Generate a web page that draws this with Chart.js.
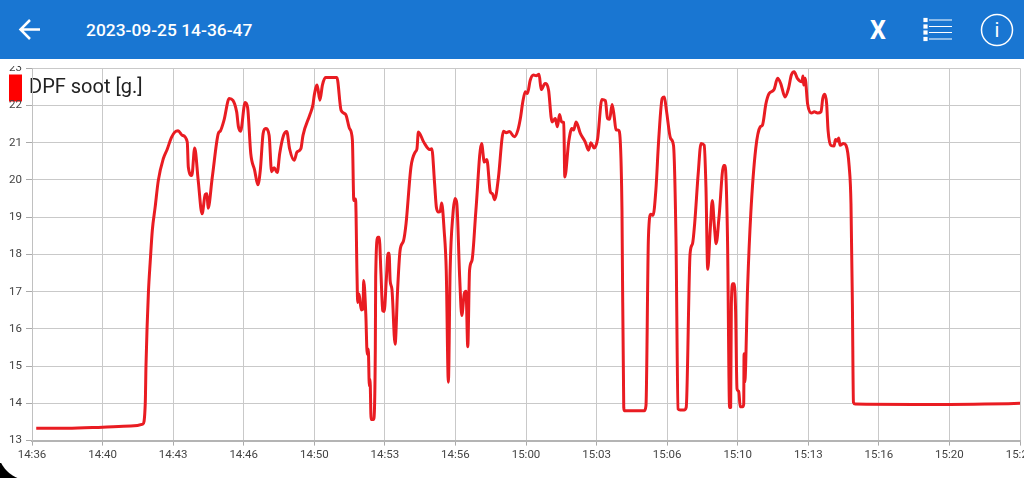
<!DOCTYPE html>
<html>
<head>
<meta charset="utf-8">
<title>DPF soot</title>
<script src="https://cdn.jsdelivr.net/npm/chart.js@4"></script>
<style>
    html, body { margin: 0; padding: 0; background: #fff; overflow: hidden; }
    #page { position: relative; width: 1024px; height: 478px; overflow: hidden; }
    #header { position: absolute; left: 0; top: 0; width: 1024px; height: 59px; background: #1976d2; }
    #title { position: absolute; left: 86px; top: 19px; color: #fff; font: 500 17.400px/22px Roboto, sans-serif; white-space: nowrap; }
    #x-btn { position: absolute; left: 870px; top: 16px; color: #fff; font: 700 25px/30px Roboto, sans-serif; }
    #info-i { position: absolute; left: 981px; top: 15px; width: 32px; text-align: center; color: #fff; font: 400 20px/30px Roboto, sans-serif; }
    svg { position: absolute; left: 0; top: 0; }
    #chart-box { position: absolute; left: 0; top: 66px; width: 1024px; height: 412px; }
    #soot-chart { display: block; }
    #corner { position: absolute; left: 0; top: 463px; width: 20px; height: 15px;
        background: radial-gradient(circle 33px at 30px -15px, rgba(0,0,0,0) 32px, #000 33px); }
</style>
</head>
<body>
<div id="page">
    <div id="header">
        <svg width="1024" height="59" fill="none" stroke="#fff" stroke-width="2.5">
            <path d="M21 29.5H40M30 20l-9.500 9.500 9.500 9.500"/>
            <g stroke-width="1.200">
                <path d="M929 20h23M929 26.500h23M929 32.500h23M929 39h23"/>
                <rect x="924" y="18.500" width="3" height="3" fill="#fff"/>
                <rect x="924" y="25" width="3" height="3" fill="#fff"/>
                <rect x="924" y="31" width="3" height="3" fill="#fff"/>
                <rect x="924" y="37.500" width="3" height="3" fill="#fff"/>
            </g>
            <circle cx="997" cy="30" r="15.500" stroke-width="1.500"/>
        </svg>
        <div id="title">2023-09-25 14-36-47</div>
        <div id="x-btn">X</div>
        <div id="info-i">i</div>
    </div>
    <div id="chart-box"><canvas id="soot-chart" width="1024" height="412"></canvas></div>
    <div id="corner"></div>
</div>

<script>
// Values. Time is seconds since the first tick (14:36:47)
const tickLabels = ["14:36", "14:40", "14:43", "14:46", "14:50", "14:53", "14:56", "15:00",
    "15:03", "15:06", "15:10", "15:13", "15:16", "15:20", "15:23"];

const elapsedSeconds = [
    12, 100, 200, 280, 314, 321, 323, 326, 330, 335, 341, 349, 358, 372, 383, 395, 405, 414, 426, 440,
    443, 453, 461, 471, 482, 491, 496, 499, 511, 528, 534, 544, 559, 580, 585, 591, 604, 611, 620, 631,
    640, 647, 655, 662, 672, 679, 686, 695, 702, 713, 722, 730, 743, 751, 762, 768, 787, 796, 800, 808,
    816, 823, 832, 848, 864, 876, 889, 900, 908, 912, 917, 921, 923, 927, 933, 938, 940, 946, 950, 953,
    956, 958, 961, 968, 973, 974, 980, 984, 989, 994, 998, 1004, 1009, 1012, 1015, 1020, 1029, 1036, 1043, 1053,
    1060, 1074, 1086, 1091, 1095, 1110, 1127, 1133, 1141, 1146, 1152, 1157, 1161, 1168, 1174, 1180, 1185, 1193, 1199, 1204,
    1212, 1218, 1225, 1230, 1235, 1240, 1247, 1258, 1274, 1282, 1289, 1299, 1305, 1311, 1322, 1332, 1336, 1344, 1353, 1367,
    1377, 1384, 1391, 1398, 1404, 1412, 1421, 1429, 1437, 1443, 1454, 1464, 1471, 1474, 1483, 1489, 1495, 1501, 1507, 1510,
    1521, 1530, 1535, 1542, 1554, 1568, 1577, 1584, 1593, 1603, 1615, 1625, 1631, 1637, 1644, 1650, 1655, 1662, 1667, 1672,
    1677, 1679, 1735, 1740, 1747, 1754, 1760, 1768, 1776, 1786, 1792, 1798, 1810, 1818, 1825, 1831, 1837, 1848, 1854, 1865,
    1872, 1878, 1888, 1896, 1905, 1910, 1915, 1922, 1928, 1934, 1939, 1947, 1960, 1964, 1971, 1977, 1980, 1982, 1986, 1990,
    1994, 1998, 2003, 2007, 2014, 2017, 2018, 2020, 2028, 2037, 2051, 2064, 2070, 2080, 2089, 2103, 2113, 2122, 2134, 2144,
    2152, 2160, 2169, 2182, 2185, 2187, 2191, 2198, 2209, 2217, 2226, 2236, 2241, 2247, 2252, 2256, 2264, 2273, 2277, 2283,
    2286, 2290, 2300, 2307, 2316, 2321, 2325, 2328, 2333, 2500, 2600, 2700, 2800
];

const sootGrams = [
    13.33, 13.33, 13.36, 13.39, 13.44, 14.0, 15.0, 16.0, 17.0, 17.8, 18.65, 19.27, 19.99, 20.57, 20.82, 21.14, 21.29, 21.32, 21.2, 21.02,
    20.35, 20.12, 20.86, 19.99, 19.09, 19.61, 19.63, 19.24, 20.08, 21.25, 21.32, 21.6, 22.19, 21.83, 21.43, 21.31, 22.08, 21.95, 20.71, 20.26,
    19.87, 20.26, 21.25, 21.38, 21.2, 20.22, 20.33, 20.2, 20.71, 21.2, 21.3, 20.84, 20.53, 20.75, 20.84, 21.2, 21.74, 22.01, 22.28, 22.55,
    22.14, 22.55, 22.75, 22.75, 22.75, 21.87, 21.76, 21.38, 21.07, 19.45, 19.49, 17.48, 16.71, 16.94, 16.51, 16.53, 17.3, 16.4, 15.32, 15.46,
    14.47, 14.65, 13.57, 13.57, 15.5, 17.39, 18.46, 18.46, 17.48, 16.49, 16.47, 17.3, 18.03, 18.03, 17.3, 17.07, 15.59, 17.03, 18.1, 18.37,
    18.82, 20.35, 20.75, 20.84, 21.29, 21.02, 20.82, 20.84, 19.9, 19.27, 19.14, 19.16, 19.38, 18.65, 17.57, 14.57, 17.57, 19.09, 19.5, 19.36,
    17.39, 16.36, 16.94, 17.01, 15.52, 17.57, 17.84, 19.18, 20.98, 20.48, 20.55, 19.68, 19.63, 19.47, 20.08, 21.11, 21.31, 21.27, 21.3, 21.16,
    21.34, 21.65, 22.1, 22.37, 22.32, 22.68, 22.82, 22.8, 22.84, 22.43, 22.59, 22.41, 21.7, 21.56, 21.65, 21.43, 21.76, 21.56, 21.54, 20.08,
    21.02, 21.38, 21.34, 21.56, 21.25, 21.02, 20.8, 21.0, 20.86, 21.11, 22.16, 22.13, 21.65, 21.63, 22.03, 21.7, 21.35, 21.34, 21.07, 19.18,
    13.89, 13.8, 13.8, 13.94, 18.47, 19.08, 19.05, 19.72, 21.07, 22.19, 22.23, 21.87, 21.11, 20.93, 18.47, 13.85, 13.82, 13.82, 13.89, 18.02,
    18.29, 18.83, 20.17, 20.98, 20.93, 19.81, 17.6, 18.65, 19.45, 18.74, 18.29, 19.0, 20.39, 20.39, 18.47, 13.89, 13.89, 16.67, 17.21, 17.21,
    16.49, 14.39, 14.32, 13.91, 13.91, 13.98, 15.33, 14.57, 17.12, 19.09, 20.84, 21.43, 21.47, 22.05, 22.32, 22.43, 22.73, 22.59, 22.23, 22.46,
    22.82, 22.91, 22.73, 22.64, 22.79, 22.55, 22.73, 22.05, 21.8, 21.83, 21.8, 21.83, 22.19, 22.3, 22.05, 21.34, 20.93, 20.91, 21.09, 21.05,
    21.13, 20.93, 20.98, 20.93, 20.35, 19.36, 16.67, 14.03, 13.98, 13.97, 13.97, 13.98, 14.0
];

const seriesLabel = "DPF soot [g.]";
const gridColor = "#c9c9c9";
const tickFont = { family: "Roboto", size: 11.5 };

// legend sits on top of the plot, so it must not take any room from it.
// draw() clips to the legend box, so the box gets its size back after layout
const overlayLegend = {
    id: "overlayLegend",
    beforeInit(chart) {
        const fit = chart.legend.fit;
        chart.legend.fit = function () {
            fit.call(this);
            this.height = 0;
        };
    },
    afterLayout(chart) {
        chart.legend.left = 6;
        chart.legend.top = 5.5;
        chart.legend.bottom = chart.legend.top + 50;
    }
};

const sootChart = new Chart(document.getElementById("soot-chart").getContext("2d"), {
    type: "line",
    data: {
        datasets: [{
            label: seriesLabel,
            data: elapsedSeconds.map((t, i) => ({ x: t, y: sootGrams[i] })),
            borderColor: "#e91c22",
            backgroundColor: "#ff0000",
            borderWidth: 3,
            borderJoinStyle: "round",
            pointRadius: 0,
            cubicInterpolationMode: "monotone"
        }]
    },
    options: {
        responsive: false,
        animation: false,
        layout: { padding: { left: 0, right: 4, top: 2.3, bottom: 0 } },
        plugins: {
            tooltip: { enabled: false },
            legend: {
                display: true,
                position: "top",
                align: "start",
                labels: {
                    // thick red outline on a narrow box keeps the text close to the swatch
                    boxWidth: 7,
                    boxHeight: 21,
                    padding: 6,
                    color: "#222",
                    font: { family: "Roboto", size: 20 },
                    generateLabels(chart) {
                        const items = Chart.defaults.plugins.legend.labels.generateLabels(chart);
                        return items.map(item => ({ ...item, strokeStyle: "#ff0000", lineWidth: 6, lineJoin: "miter" }));
                    }
                }
            }
        },
        scales: {
            x: {
                type: "linear",
                min: 0,
                max: 2800,
                afterFit(scale) {
                    scale.height = 37.4;
                    scale.paddingLeft = 0;
                    scale.paddingRight = 0;
                },
                afterBuildTicks(scale) {
                    scale.ticks = tickLabels.map((_, i) => ({ value: i * 200 }));
                },
                grid: { color: gridColor, tickColor: "#aaa", tickLength: 5 },
                border: { color: "#b4b4b4", width: 2 },
                ticks: {
                    autoSkip: false,
                    maxRotation: 0,
                    padding: 3,
                    color: "#444",
                    font: tickFont,
                    callback: (value, index) => tickLabels[index]
                }
            },
            y: {
                min: 13,
                max: 23,
                afterFit(scale) {
                    scale.width = 32;
                    scale.paddingTop = 0;
                    scale.paddingBottom = 0;
                },
                grid: { color: gridColor, tickColor: "#aaa", tickLength: 6 },
                border: { color: "#c0c0c0", width: 1 },
                ticks: {
                    stepSize: 1,
                    padding: 4,
                    color: "#444",
                    font: tickFont
                }
            }
        }
    },
    plugins: [overlayLegend]
});
</script>
</body>
</html>
